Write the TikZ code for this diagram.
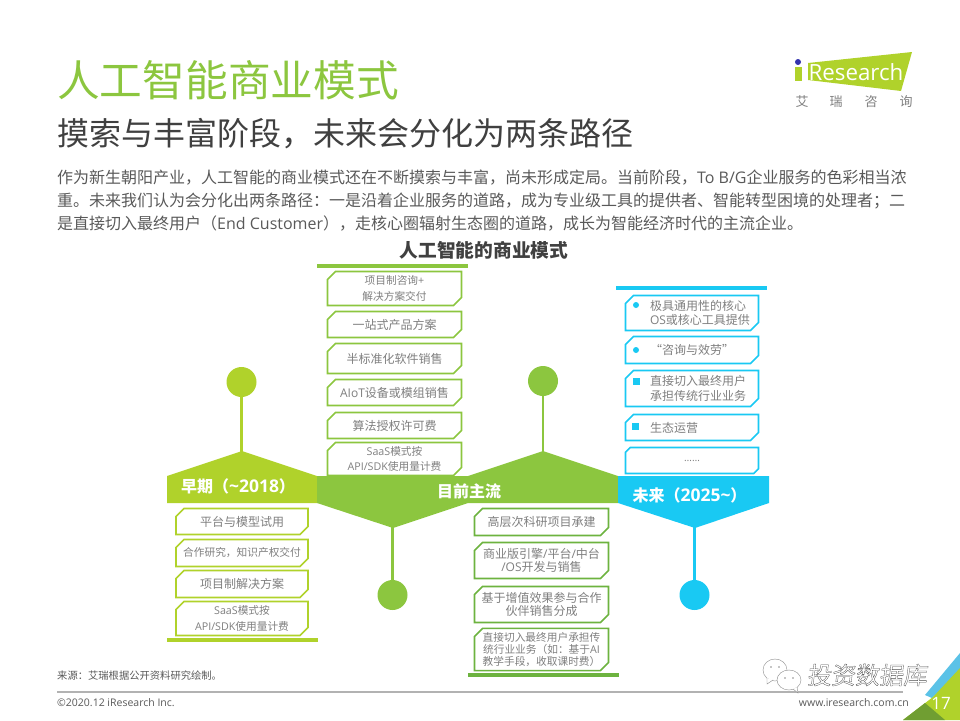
\documentclass[tikz,border=0pt]{standalone}
\usepackage{fontspec}
\usepackage{xcolor}
\usetikzlibrary{shapes.misc}
\setmainfont{Noto Sans CJK SC}
\newfontfamily\latfont{Open Sans}
\definecolor{limegreen}{HTML}{B0D22B}
\definecolor{midgreen}{HTML}{8CC63F}
\definecolor{lowgreen}{HTML}{6DB33F}
\definecolor{skyblue}{HTML}{19C9F3}
\definecolor{cornerblue}{HTML}{5BC2E7}
\definecolor{boxtext}{HTML}{7F7F7F}
\definecolor{bodytext}{HTML}{595959}
\definecolor{darktext}{HTML}{404040}
\newcommand{\ind}{\hspace*{18pt}}
\newcommand{\stagelat}[1]{{\fontsize{17.5}{18}\selectfont\latfont #1}}
\tikzset{
    plan/.style={chamfered rectangle, chamfered rectangle corners={north west,south east},
        chamfered rectangle xsep=4pt, chamfered rectangle ysep=4pt, draw, line width=1.6pt, fill=white,
        inner sep=0pt, outer sep=0pt, text=boxtext, align=center},
    dot/.style={circle, minimum size=30pt, inner sep=0pt},
    plain/.style={inner sep=0pt, anchor=west},
    stage/.style={inner sep=0pt, text=white, font=\fontsize{16}{18}\selectfont\bfseries},
}
\begin{document}
\begin{tikzpicture}[x=1pt, y=-1pt]
    \useasboundingbox (0,0) rectangle (960,720);
    % heading block
    \node[plain, text=midgreen, font=\fontsize{42.7}{46}\selectfont] (title) at (57,80) {人工智能商业模式};
    \node[plain, text=darktext, font=\fontsize{32}{36}\selectfont] (subtitle) at (57,134) {摸索与丰富阶段，未来会分化为两条路径};
    \node[plain, text=bodytext, font=\fontsize{16}{18}\selectfont] (bodya) at (57,178) {作为新生朝阳产业，人工智能的商业模式还在不断摸索与丰富，尚未形成定局。当前阶段，{\latfont To B/G}企业服务的色彩相当浓};
    \node[plain, text=bodytext, font=\fontsize{16}{18}\selectfont] (bodyb) at (57,201) {重。未来我们认为会分化出两条路径：一是沿着企业服务的道路，成为专业级工具的提供者、智能转型困境的处理者；二};
    \node[plain, text=bodytext, font=\fontsize{16}{18}\selectfont] (bodyc) at (57,224) {是直接切入最终用户（{\latfont End Customer}），走核心圈辐射生态圈的道路，成长为智能经济时代的主流企业。};
    \node[text=darktext, inner sep=0pt, font=\fontsize{18.7}{20}\selectfont\bfseries] (charttitle) at (484,250) {人工智能的商业模式};

    % logo
    \fill[limegreen] (808,63) -- (912,52) -- (901,91) -- (808,80) -- cycle;
    \fill[limegreen] (795,67) rectangle (802,81);
    \fill[blue!60!black!80] (798,62) circle (3);
    \node[inner sep=0pt, text=white, font=\fontsize{22.3}{25}\selectfont\latfont] (logoword) at (856,72) {Research};
    \foreach \name/\x/\zi in {ai/802/艾, rui/836/瑞, zi/871/咨, xun/906/询}{
        \node[inner sep=0pt, text=boxtext, font=\fontsize{13}{14}\selectfont] (logo\name) at (\x,102) {\zi};
    }

    % stage bands
    \fill[limegreen] (167,476) -- (242,451) -- (317,476) -- (317,503) -- (167,503) -- cycle;
    \fill[midgreen] (317,476) -- (468,476) -- (543,451) -- (618,476) -- (618,503) -- (468,503) -- (393,528) -- (317,503) -- cycle;
    \fill[skyblue] (618,476) -- (769,476) -- (769,503) -- (695,528) -- (618,503) -- cycle;
    \node[stage] (early) at (238,486) {早期（\stagelat{\char`\~2018}）};
    \node[stage] (now) at (469,491) {目前主流};
    \node[stage] (later) at (689.5,495) {未来（\stagelat{2025\char`\~}）};

    % bars
    \fill[midgreen] (317,264) rectangle (468,268);
    \fill[skyblue] (616,286) rectangle (767,290);
    \fill[limegreen] (167,638) rectangle (318,642);
    \fill[lowgreen] (468,673) rectangle (619,677);

    % stems and dots
    \coordinate (earlytip) at (241.5,452);
    \coordinate (nowtip) at (543,452);
    \coordinate (nowlow) at (392.5,527);
    \coordinate (latertip) at (694.5,527);
    \node[dot, fill=limegreen] (earlydot) at (241.5,382) {};
    \node[dot, fill=midgreen] (nowdot) at (543,381) {};
    \node[dot, fill=midgreen] (lowdot) at (392.5,595) {};
    \node[dot, fill=skyblue] (laterdot) at (694.5,595) {};
    \draw[limegreen, line width=2.5pt] (earlydot) -- (earlytip);
    \draw[midgreen, line width=2.5pt] (nowdot) -- (nowtip);
    \draw[midgreen, line width=2.5pt] (lowdot) -- (nowlow);
    \draw[skyblue, line width=2.5pt] (laterdot) -- (latertip);

    % early boxes
    \foreach \name/\y/\h/\fs/\ls/\txt in {
        ea/521.5/26/12/14/{平台与模型试用},
        eb/553/27/10.7/14/{合作研究，知识产权交付},
        ec/584/27/12/14/{项目制解决方案},
        ed/618.5/30/10.7/16/{{\latfont SaaS}模式按\\{\latfont API/SDK}使用量计费}}{
        \node[plan, draw=limegreen, minimum width=132pt, minimum height=\h pt, font=\fontsize{\fs}{\ls}\selectfont] (\name) at (242,\y) {\txt};
    }
    % current boxes, upper
    \foreach \name/\y/\h/\fs/\ls/\txt in {
        na/288.5/34/10.7/16/{项目制咨询{\latfont +}\\解决方案交付},
        nb/324.5/26/12/14/{一站式产品方案},
        nc/358.5/30/12/14/{半标准化软件销售},
        nd/392.5/26/12/14/{{\latfont AIoT}设备或模组销售},
        ne/425.5/26/12/14/{算法授权许可费},
        nf/459/29/10.7/15/{{\latfont SaaS}模式按\\{\latfont API/SDK}使用量计费}}{
        \node[plan, draw=midgreen, minimum width=134pt, minimum height=\h pt, font=\fontsize{\fs}{\ls}\selectfont] (\name) at (394.5,\y) {\txt};
    }
    % current boxes, lower
    \foreach \name/\y/\h/\fs/\ls/\txt in {
        la/522/27/12/14/{高层次科研项目承建},
        lb/560.5/36/12/13/{商业版引擎{\latfont /}平台{\latfont /}中台\\{\latfont /OS}开发与销售},
        lc/604.5/36/12/13/{基于增值效果参与合作\\伙伴销售分成},
        ld/649.5/38/10.7/12/{直接切入最终用户承担传\\统行业业务（如：基于{\latfont AI}\\教学手段，收取课时费）}}{
        \node[plan, draw=lowgreen, minimum width=134pt, minimum height=\h pt, font=\fontsize{\fs}{\ls}\selectfont] (\name) at (541.5,\y) {\txt};
    }
    % future boxes
    \foreach \name/\y/\h/\txt in {
        fa/313/35/{\ind 极具通用性的核心\\\ind{\latfont OS}或核心工具提供},
        fb/350/27/{\ind“咨询与效劳”},
        fc/388.5/36/{\ind 直接切入最终用户\\\ind 承担传统行业业务},
        fd/427.5/26/{\ind 生态运营}}{
        \node[plan, draw=skyblue, minimum width=133pt, minimum height=\h pt, text width=120pt, align=left, font=\fontsize{12}{14.5}\selectfont] (\name) at (692,\y) {\txt};
    }
    \node[plan, draw=skyblue, minimum width=133pt, minimum height=26pt, font=\fontsize{10}{12}\selectfont\latfont] (fe) at (692,460.5) {\raisebox{-1.5pt}{……}};
    \fill[skyblue] (636,305) circle (3);
    \fill[skyblue] (636,350) circle (3);
    \fill[skyblue] (633,378) rectangle (639.5,384.5);
    \fill[skyblue] (632,423) rectangle (638.5,429.5);

    % footer
    \draw[black!30, line width=1.3pt] (57,692) -- (903,692);
    \node[plain, text=bodytext, font=\fontsize{10.3}{12}\selectfont] (source) at (57,676) {来源：艾瑞根据公开资料研究绘制。};
    \node[plain, text=bodytext, font=\fontsize{10.5}{12}\selectfont\latfont] (copyright) at (57,703) {©2020.12 iResearch Inc.};
    \node[plain, anchor=east, text=bodytext, font=\fontsize{10.5}{12}\selectfont\latfont] (site) at (909,703) {www.iresearch.com.cn};

    % corner
    \fill[cornerblue] (960,653) -- (925,695) -- (932,698) -- (960,672) -- cycle;
    \fill[limegreen] (903,720) -- (933,697) -- (960,668) -- (960,720) -- cycle;
    \fill[midgreen!80!black] (903,720) -- (925,703) -- (945,720) -- cycle;
    \node[inner sep=0pt, text=white, font=\fontsize{17}{18}\selectfont\latfont] (pageno) at (941,703) {17};

    % watermark
    \draw[black!45, fill=white, line width=0.4pt] (775,670) ellipse (12 and 11);
    \draw[black!45, fill=white, line width=0.4pt] (767,678) -- (767,684) -- (773,680);
    \draw[black!45, fill=white, line width=0.4pt] (789,680) ellipse (12 and 10);
    \draw[black!45, fill=white, line width=0.4pt] (793,689) -- (798,693) -- (797,687);
    \foreach \ex/\ey in {771/667, 779/667, 785/678, 793/678}{
        \fill[black!45] (\ex,\ey) circle (0.8);
    }
    \node[plain, text=black!70, xslant=0.12, font=\fontsize{24}{25}\selectfont] (mark) at (808,675) {\special{pdf:code 1 Tr 0.3 w}投资数据库\special{pdf:code 0 Tr 1 w}};
\end{tikzpicture}
\end{document}
